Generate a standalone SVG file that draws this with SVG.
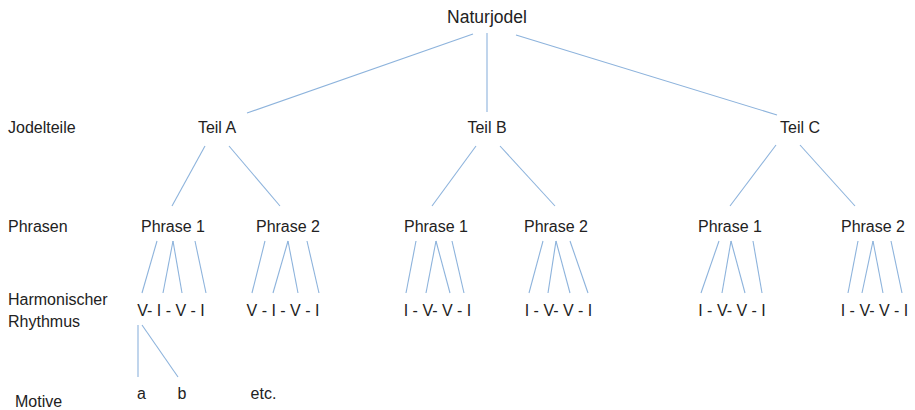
<svg xmlns="http://www.w3.org/2000/svg" width="915" height="410" viewBox="0 0 915 410">
<style>
text{font-family:"Liberation Sans",Arial,sans-serif;font-size:16px;fill:#222}
.m{text-anchor:middle}
.c line{stroke:#8db3dc;stroke-width:1.1;fill:none}
</style>
<rect width="915" height="410" fill="#fff"/>
<g class="c" id="connectors">
<line x1="473" y1="34" x2="247" y2="113"/>
<line x1="487" y1="33" x2="487" y2="112"/>
<line x1="516" y1="35" x2="777" y2="115"/>
<line x1="205" y1="146" x2="172" y2="206"/>
<line x1="229" y1="146" x2="280" y2="206"/>
<line x1="476" y1="146" x2="432" y2="206"/>
<line x1="500" y1="146" x2="555" y2="206"/>
<line x1="776" y1="145" x2="730" y2="206"/>
<line x1="800" y1="145" x2="855" y2="206"/>
<line x1="157" y1="241" x2="142" y2="293"/>
<line x1="173" y1="241" x2="163" y2="293"/>
<line x1="173" y1="241" x2="182" y2="293"/>
<line x1="195" y1="241" x2="206" y2="293"/>
<line x1="265" y1="241" x2="252" y2="293"/>
<line x1="288" y1="241" x2="273" y2="293"/>
<line x1="288" y1="241" x2="298" y2="293"/>
<line x1="307" y1="241" x2="319" y2="293"/>
<line x1="416" y1="241" x2="406" y2="293"/>
<line x1="436" y1="241" x2="426" y2="293"/>
<line x1="436" y1="241" x2="450" y2="293"/>
<line x1="452" y1="241" x2="464" y2="293"/>
<line x1="543" y1="241" x2="529" y2="293"/>
<line x1="556" y1="241" x2="548" y2="293"/>
<line x1="556" y1="241" x2="570" y2="293"/>
<line x1="570" y1="241" x2="588" y2="293"/>
<line x1="719" y1="241" x2="701" y2="293"/>
<line x1="731" y1="241" x2="722" y2="293"/>
<line x1="731" y1="241" x2="745" y2="293"/>
<line x1="753" y1="241" x2="762" y2="293"/>
<line x1="858" y1="241" x2="848" y2="293"/>
<line x1="873" y1="241" x2="862" y2="293"/>
<line x1="873" y1="241" x2="883" y2="293"/>
<line x1="891" y1="241" x2="902" y2="293"/>
<line x1="138" y1="325" x2="138" y2="377"/>
<line x1="142" y1="325" x2="178" y2="377"/>
</g>
<g id="labels">
<text x="8" y="133">Jodelteile</text>
<text x="8" y="232">Phrasen</text>
<text x="8" y="305">Harmonischer</text>
<text x="8" y="327">Rhythmus</text>
<text x="15" y="407">Motive</text>
</g>
<g id="naturjodel"><text class="m" x="487" y="23" style="font-size:17.5px">Naturjodel</text></g>
<g id="teilA"><text class="m" x="217" y="133">Teil A</text></g>
<g id="teilB"><text class="m" x="487" y="133">Teil B</text></g>
<g id="teilC"><text class="m" x="800" y="133">Teil C</text></g>
<g id="A1"><text class="m" x="173" y="232">Phrase 1</text></g>
<g id="A2"><text class="m" x="288" y="232">Phrase 2</text></g>
<g id="B1"><text class="m" x="436" y="232">Phrase 1</text></g>
<g id="B2"><text class="m" x="556" y="232">Phrase 2</text></g>
<g id="C1"><text class="m" x="730" y="232">Phrase 1</text></g>
<g id="C2"><text class="m" x="873" y="232">Phrase 2</text></g>
<g id="hA1"><text class="m" x="171" y="316">V- I - V - I</text></g>
<g id="hA2"><text class="m" x="283" y="316">V - I - V - I</text></g>
<g id="hB1"><text class="m" x="437.5" y="316">I - V- V - I</text></g>
<g id="hB2"><text class="m" x="558.5" y="316">I - V- V - I</text></g>
<g id="hC1"><text class="m" x="732" y="316">I - V- V - I</text></g>
<g id="hC2"><text class="m" x="874.5" y="316">I - V- V - I</text></g>
<g id="ma"><text class="m" x="141.5" y="399">a</text></g>
<g id="mb"><text class="m" x="182" y="399">b</text></g>
<g id="metc"><text class="m" x="263.5" y="399">etc.</text></g>
</svg>
